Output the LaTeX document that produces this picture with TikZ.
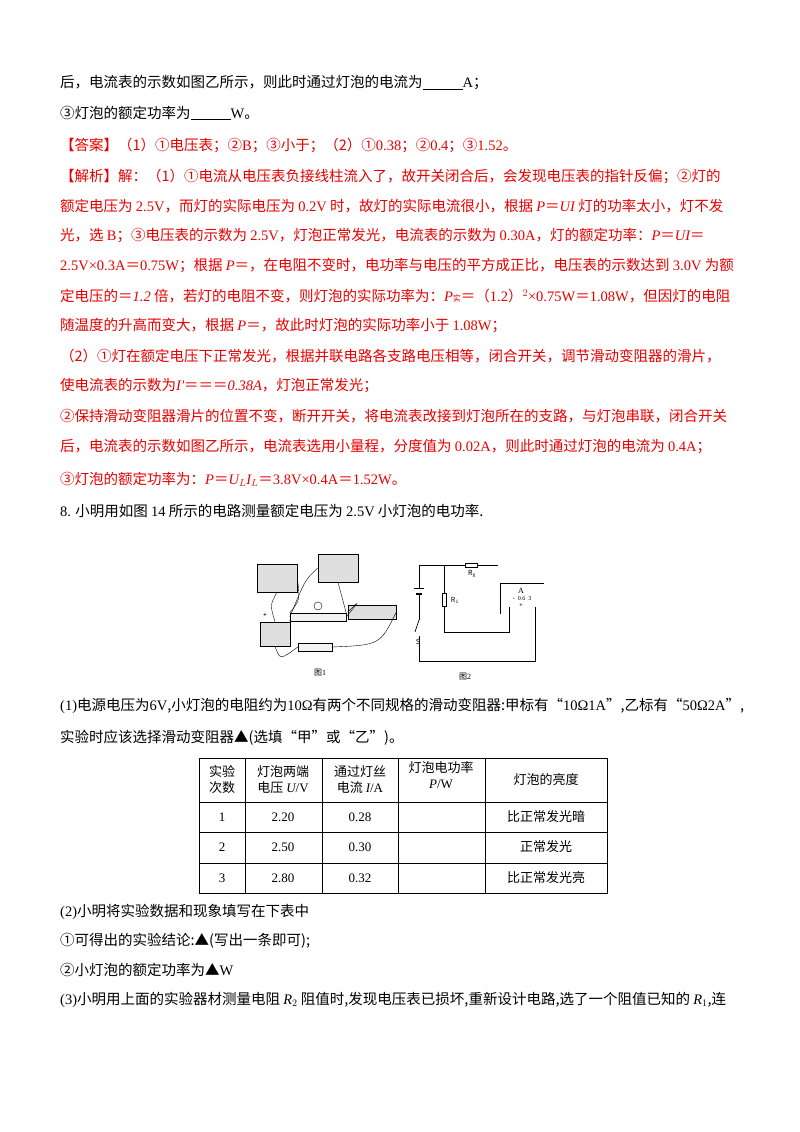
\documentclass[tikz,border=0pt]{standalone}
\usepackage{fontspec}
\setmainfont{Noto Sans CJK SC}
\newfontfamily\lat{Liberation Serif}
\begin{document}
\begin{tikzpicture}[x=1pt,y=-1pt,
  ln/.style={anchor=west,inner sep=0pt,font=\fontsize{14.5}{16}\selectfont},
  rd/.style={ln,text={rgb,255:red,230;green,0;blue,0}},
  tb/.style={font=\fontsize{13}{16}\selectfont,align=center,inner sep=0pt},
  wire/.style={line width=0.7pt},
  app/.style={draw,line width=0.6pt,fill=gray!25}]
\useasboundingbox (0,0) rectangle (800,1132);
\node[ln] (l1) at (60,83) {后，电流表的示数如图乙所示，则此时通过灯泡的电流为\underline{\hspace{40pt}}{\lat A}；};
\node[ln] (l2) at (60,113) {③灯泡的额定功率为\underline{\hspace{40pt}}{\lat W}。};
\node[rd] (l3) at (60,145) {【答案】（1）①电压表；②{\lat B}；③小于；（2）①{\lat 0.38}；②{\lat 0.4}；③{\lat 1.52}。};
\node[rd] (l4) at (60,176) {【解析】解：（1）①电流从电压表负接线柱流入了，故开关闭合后，会发现电压表的指针反偏；②灯的};
\node[rd] (l5) at (60,206) {额定电压为 {\lat 2.5V}，而灯的实际电压为 {\lat 0.2V} 时，故灯的实际电流很小，根据 {\lat\itshape P}＝{\lat\itshape UI} 灯的功率太小，灯不发};
\node[rd] (l6) at (60,236) {光，选 {\lat B}；③电压表的示数为 {\lat 2.5V}，灯泡正常发光，电流表的示数为 {\lat 0.30A}，灯的额定功率：{\lat\itshape P}＝{\lat\itshape UI}＝};
\node[rd] (l7) at (60,266) {{\lat 2.5V×0.3A}＝{\lat 0.75W}；根据 {\lat\itshape P}＝，在电阻不变时，电功率与电压的平方成正比，电压表的示数达到 {\lat 3.0V} 为额};
\node[rd] (l8) at (60,296) {定电压的{\itshape ＝{\lat\itshape 1.2} 倍，若灯的电阻不变，则灯泡的实际功率为：}{\lat\itshape P}{\fontsize{8}{8}\selectfont 实}＝（{\lat 1.2}）$^{\lat 2}${\lat ×0.75W}＝{\lat 1.08W}，但因灯的电阻};
\node[rd] (l9) at (60,326) {随温度的升高而变大，根据 {\lat\itshape P}＝，故此时灯泡的实际功率小于 {\lat 1.08W}；};
\node[rd] (l10) at (60,356) {（2）①灯在额定电压下正常发光，根据并联电路各支路电压相等，闭合开关，调节滑动变阻器的滑片，};
\node[rd] (l11) at (60,386) {使电流表的示数为{\lat\itshape I'}＝＝＝{\itshape\lat 0.38A}{\itshape ，灯泡正常发光；}};
\node[rd] (l12) at (60,416) {②保持滑动变阻器滑片的位置不变，断开开关，将电流表改接到灯泡所在的支路，与灯泡串联，闭合开关};
\node[rd] (l13) at (60,447) {后，电流表的示数如图乙所示，电流表选用小量程，分度值为 {\lat 0.02A}，则此时通过灯泡的电流为 {\lat 0.4A}；};
\node[rd] (l14) at (60,479) {③灯泡的额定功率为：{\lat\itshape P}＝{\lat\itshape U}$_{\lat L}${\lat\itshape I}$_{\lat L}$＝{\lat 3.8V×0.4A}＝{\lat 1.52W}。};
\node[ln] (l15) at (60,511) {{\lat 8.} 小明用如图 {\lat 14} 所示的电路测量额定电压为 {\lat 2.5V} 小灯泡的电功率.};
% figure 1
\node[app,minimum width=40pt,minimum height=28pt] (m1) at (277,578) {};
\node[app,minimum width=40pt,minimum height=28pt] (m2) at (338,568) {};
\node[app,minimum width=30pt,minimum height=24pt] (bat) at (275,634) {};
\node[draw,fill=gray!10,minimum width=56pt,minimum height=8pt,inner sep=0pt] (bd) at (318,617) {};
\node[draw,circle,minimum size=8pt,inner sep=0pt] (bulb) at (318,606) {};
\node[app,minimum width=48pt,minimum height=14pt] (rh) at (372,612) {};
\node[draw,fill=gray!10,minimum width=34pt,minimum height=8pt,inner sep=0pt] (sw) at (315,647) {};
\node[font=\fontsize{7}{7}\selectfont,inner sep=0pt] at (265,615) {+};
\node[font=\fontsize{7}{7}\selectfont,inner sep=0pt] at (290,621) {-};
\draw[wire,thin] (m1.south) .. controls (270,605) .. (bat.north);
\draw[wire,thin] (m2.west) .. controls (305,580) .. (bd.west);
\draw[wire,thin] (m1.east) .. controls (300,600) .. (bd.north west);
\draw[wire,thin] (bd.east) .. controls (360,600) .. (rh.west);
\draw[wire,thin] (bat.south) .. controls (280,660) .. (sw.west);
\draw[wire,thin] (sw.east) .. controls (380,645) .. (rh.east);
\draw[wire,thin] (m2.south) -- (bd.north east);
\node[font=\fontsize{8}{8}\selectfont] (c1) at (320,673) {图{\lat 1}};
% figure 2
\coordinate (tl) at (419,565); \coordinate (tr) at (498,565);
\coordinate (bl) at (419,661); \coordinate (br) at (535,661);
\draw[wire] (tr) -- (tl) -- (419,588);
\draw[wire] (414,588) -- (424,588);
\draw[wire,line width=1.4pt] (416,594) -- (422,594);
\draw[wire] (419,594) -- (419,620);
\draw[wire] (419,620) -- (415,632);
\draw[wire] (419,636) -- (bl) -- (br) -- (535,607);
\node[draw,fill=white,minimum width=12pt,minimum height=4pt,inner sep=0pt] (rx) at (471,565) {};
\node[font=\fontsize{7}{7}\selectfont] at (472,574) {R$_{\mathrm X}$};
\draw[wire] (444,565) -- (444,632) -- (509,632) -- (509,607);
\node[draw,fill=white,minimum width=4pt,minimum height=13pt,inner sep=0pt] (r1) at (444,600) {};
\node[font=\fontsize{7}{7}\selectfont] at (455,600) {R$_1$};
\node[font=\fontsize{7}{7}\selectfont] at (418,642) {S};
\draw[wire] (500,614) -- (500,583) -- (544,583);
\node[font=\fontsize{8}{8}\selectfont\lat] at (521,591) {A};
\node[font=\fontsize{6}{6}\selectfont\lat] at (522,599) {-\ \ 0.6\ \ 3};
\node[font=\fontsize{6}{6}\selectfont] at (521,606) {+};
\node[font=\fontsize{8}{8}\selectfont] (c2) at (465,677) {图{\lat 2}};
\node[ln] (l16) at (60,706) {{\lat (1)}电源电压为{\lat 6V},小灯泡的电阻约为{\lat 10Ω}有两个不同规格的滑动变阻器:甲标有“{\lat 10Ω1A}”,乙标有“{\lat 50Ω2A}”,};
\node[ln] (l17) at (60,738) {实验时应该选择滑动变阻器▲(选填“甲”或“乙”)。};
% table
\draw[line width=0.6pt] (199,758) rectangle (607,893);
\foreach \y in {802,832,863} \draw[line width=0.6pt] (199,\y) -- (607,\y);
\foreach \x in {245,322,398,485} \draw[line width=0.6pt] (\x,758) -- (\x,893);
\node[tb] at (222,780) {实验\\次数};
\node[tb] at (283,780) {灯泡两端\\电压 {\lat\itshape U}{\lat /V}};
\node[tb] at (360,780) {通过灯丝\\电流 {\lat\itshape I}{\lat /A}};
\node[tb] at (441,775) {灯泡电功率\\{\lat\itshape P}{\lat /W}};
\node[tb] at (546,780) {灯泡的亮度};
\foreach \y/\a/\b/\c/\d in {817/1/2.20/0.28/比正常发光暗,847/2/2.50/0.30/正常发光,878/3/2.80/0.32/比正常发光亮}{
 \node[tb] at (222,\y) {\lat \a}; \node[tb] at (283,\y) {\lat \b}; \node[tb] at (360,\y) {\lat \c}; \node[tb] at (546,\y) {\d};}
\node[ln] (l18) at (60,912) {{\lat (2)}小明将实验数据和现象填写在下表中};
\node[ln] (l19) at (60,941) {①可得出的实验结论:▲(写出一条即可);};
\node[ln] (l20) at (60,970) {②小灯泡的额定功率为▲{\lat W}};
\node[ln] (l21) at (60,1000) {{\lat (3)}小明用上面的实验器材测量电阻 {\lat\itshape R}$_{\lat 2}$ 阻值时,发现电压表已损坏,重新设计电路,选了一个阻值已知的 {\lat\itshape R}$_{\lat 1}$,连};
\end{tikzpicture}
\end{document}
